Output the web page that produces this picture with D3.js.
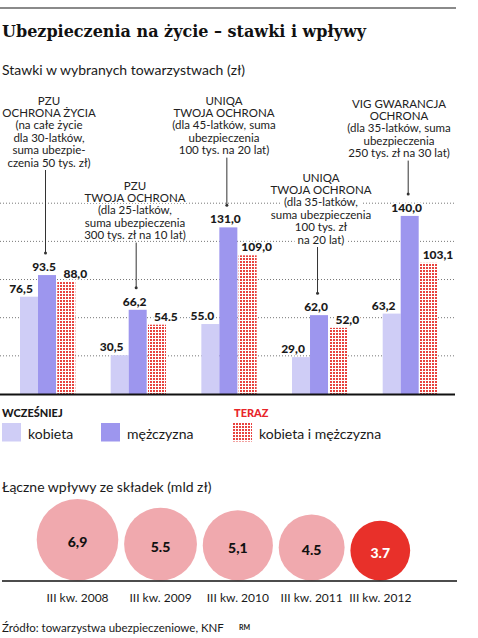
<!DOCTYPE html>
<html>
<head>
<meta charset="utf-8">
<script src="https://cdn.jsdelivr.net/npm/d3@7"></script>
<style>
  body { margin: 0; background: #fff; }
  svg { display: block; }
  text { font-family: Lato, "Open Sans", sans-serif; fill: #1a1a1a; }
</style>
</head>
<body>
<div id="chart"></div>
<script>
// --- data ---
var groups = ["pzu1", "pzu2", "uniqa45", "uniqa35", "vig"];
var kobieta = [76.5, 30.5, 55.0, 29.0, 63.2];
var mezczyzna = [93.5, 66.2, 131.0, 62.0, 140.0];
var teraz = [88.0, 54.5, 109.0, 52.0, 103.1];
var kobietaLbl = ["76,5", "30,5", "55.0", "29,0", "63,2"];
var mezczyznaLbl = ["93.5", "66,2", "131,0", "62,0", "140,0"];
var terazLbl = ["88,0", "54.5", "109,0", "52,0", "103,1"];
var notes = [
  ["PZU", "OCHRONA ŻYCIA", "(na całe życie", "dla 30-latków,", "suma ubezpie-", "czenia 50 tys. zł)"],
  ["PZU", "TWOJA OCHRONA", "(dla 25-latków,", "suma ubezpieczenia", "300 tys. zł na 10 lat)"],
  ["UNIQA", "TWOJA OCHRONA", "(dla 45-latków, suma", "ubezpieczenia", "100 tys. na 20 lat)"],
  ["UNIQA", "TWOJA OCHRONA", "(dla 35-latków,", "suma ubezpieczenia", "100 tys. zł", "na 20 lat)"],
  ["VIG GWARANCJA", "OCHRONA", "(dla 35-latków, suma", "ubezpieczenia", "250 tys. zł na 30 lat)"]
];
var yTicks = [30, 60, 90, 120, 150];

var years = ["III kw. 2008", "III kw. 2009", "III kw. 2010", "III kw. 2011", "III kw. 2012"];
var wplywy = [6.9, 5.5, 5.1, 4.5, 3.7];
var wplywyLbl = ["6,9", "5.5", "5,1", "4.5", "3.7"];

// --- layout ---
var W = 478, H = 638;
var noteLayout = [ // centre x and first line y of each annotation
  { cx: 49, y: 100 }, { cx: 135, y: 185 }, { cx: 224, y: 100 },
  { cx: 321, y: 177 }, { cx: 399, y: 103 }
];
var lineH = 12.4;

var svg = d3.select("#chart").append("svg")
  .attr("width", W).attr("height", H);

var defs = svg.append("defs");
var pat = defs.append("pattern")
  .attr("id", "dots").attr("patternUnits", "userSpaceOnUse")
  .attr("width", 3).attr("height", 3);
pat.append("rect").attr("width", 3).attr("height", 3).attr("fill", "#fff");
pat.append("rect").attr("width", 2).attr("height", 2).attr("fill", "#e8433f");

// header
svg.append("line").attr("x1", 0).attr("x2", 456).attr("y1", 8).attr("y2", 8)
  .attr("stroke", "#8a8a8a").attr("stroke-width", 2);
svg.append("text").attr("x", 2).attr("y", 37)
  .style("font-family", "'DejaVu Serif', serif").style("font-weight", "bold")
  .style("font-size", "16px").style("fill", "#111")
  .text("Ubezpieczenia na życie – stawki i wpływy");
svg.append("text").attr("x", 2).attr("y", 75)
  .style("font-size", "14px").text("Stawki w wybranych towarzystwach (zł)");

// scales
var x = d3.scaleBand().domain(groups).range([20, 438]).paddingInner(0.39).paddingOuter(0);
var keys = ["k", "m", "t"];
var xs = d3.scaleBand().domain(keys).range([0, x.bandwidth() - 1.3]);
var shift = { k: 0, m: 0, t: 1.3 };
var y = d3.scaleLinear().domain([0, 150]).range([394, 203.2]);

// gridlines
svg.append("g").selectAll("line").data(yTicks).join("line")
  .attr("x1", 0).attr("x2", 455)
  .attr("y1", d => y(d)).attr("y2", d => y(d))
  .attr("stroke", "#777").attr("stroke-width", 1)
  .attr("stroke-dasharray", "1,2");

// annotations
var noteG = svg.append("g");
notes.forEach(function (lines, i) {
  var L = noteLayout[i];
  var g = noteG.append("g");
  var bg = g.append("g");
  var txt = g.selectAll("text").data(lines).join("text")
    .attr("x", L.cx).attr("y", (d, j) => L.y + j * lineH)
    .attr("text-anchor", "middle").attr("dominant-baseline", "central")
    .style("font-size", "11.5px").style("fill", "#222")
    .text(d => d);
  txt.each(function () {
    var b = this.getBBox();
    bg.append("rect").attr("x", b.x - 3).attr("y", b.y + 1)
      .attr("width", b.width + 6).attr("height", b.height - 2).attr("fill", "#fff");
  });
  // connector down to the men's bar
  var cxBar = x(groups[i]) + xs("m") + xs.bandwidth() / 2;
  var y1 = L.y + (lines.length - 1) * lineH + 8;
  var y2 = y(mezczyzna[i]) - 22;
  svg.append("line").attr("x1", cxBar - 1.5).attr("x2", cxBar - 1.5)
    .attr("y1", y1).attr("y2", y2)
    .attr("stroke", "#333").attr("stroke-width", 1);
  svg.append("circle").attr("cx", cxBar - 1.5).attr("cy", y2).attr("r", 1.5).attr("fill", "#333");
});

// bars
var rows = [];
groups.forEach(function (g, i) {
  rows.push({ g: g, key: "k", v: kobieta[i], lbl: kobietaLbl[i] });
  rows.push({ g: g, key: "m", v: mezczyzna[i], lbl: mezczyznaLbl[i] });
  rows.push({ g: g, key: "t", v: teraz[i], lbl: terazLbl[i] });
});
var fills = { k: "#cfcdf6", m: "#9d96ee", t: "url(#dots)" };
var labelDx = { k: -8, m: -3, t: 9 };

svg.append("g").selectAll("rect").data(rows).join("rect")
  .attr("x", d => x(d.g) + xs(d.key) + shift[d.key])
  .attr("y", d => y(d.v))
  .attr("width", xs.bandwidth())
  .attr("height", d => y(0) - y(d.v))
  .attr("fill", d => fills[d.key]);

svg.append("g").selectAll("text").data(rows).join("text")
  .attr("x", d => x(d.g) + xs(d.key) + shift[d.key] + xs.bandwidth() / 2 + labelDx[d.key])
  .attr("y", d => y(d.v) - 4)
  .attr("text-anchor", "middle")
  .style("font-size", "12px").style("font-weight", 900)
  .style("stroke", "#fff").style("stroke-width", 3).style("paint-order", "stroke")
  .text(d => d.lbl);

svg.append("line").attr("x1", 0).attr("x2", 455).attr("y1", y(0) + 0.5).attr("y2", y(0) + 0.5)
  .attr("stroke", "#111").attr("stroke-width", 2);

// legend
svg.append("text").attr("x", 2).attr("y", 417)
  .style("font-size", "11px").style("font-weight", 900).text("WCZEŚNIEJ");
svg.append("text").attr("x", 234).attr("y", 417)
  .style("font-size", "11px").style("font-weight", 900).style("fill", "#e8262a").text("TERAZ");
var legend = [
  { key: "k", x: 2, label: "kobieta" },
  { key: "m", x: 101, label: "mężczyzna" },
  { key: "t", x: 233, label: "kobieta i mężczyzna" }
];
var lg = svg.append("g").selectAll("g").data(legend).join("g")
  .attr("transform", d => "translate(" + d.x + ",423)");
lg.append("rect").attr("width", 19).attr("height", 18.5).attr("fill", d => fills[d.key]);
lg.append("text").attr("x", 26).attr("y", 10).attr("dominant-baseline", "central")
  .style("font-size", "14px").text(d => d.label);

// bubbles
svg.append("text").attr("x", 2).attr("y", 492)
  .style("font-size", "14px").text("Łączne wpływy ze składek (mld zł)");

var r = d3.scaleSqrt().domain([0, 6.9]).range([0, 40.8]);
var base = 580.5, gap = 5.8;
var cx = [];
wplywy.forEach(function (v, i) {
  if (i === 0) cx.push(36.7 + r(v));
  else cx.push(cx[i - 1] + r(wplywy[i - 1]) + gap + r(v));
});
var bub = svg.append("g").selectAll("g").data(wplywy).join("g");
bub.append("circle")
  .attr("cx", (d, i) => cx[i]).attr("cy", d => base - r(d)).attr("r", d => r(d))
  .attr("fill", (d, i) => i === wplywy.length - 1 ? "#e8302a" : "#f0a9ae");
bub.append("text")
  .attr("x", (d, i) => cx[i]).attr("y", d => base - r(d) + 2)
  .attr("text-anchor", "middle").attr("dominant-baseline", "central")
  .style("font-size", "14px").style("font-weight", 900)
  .style("fill", (d, i) => i === wplywy.length - 1 ? "#fff" : "#111")
  .text((d, i) => wplywyLbl[i]);
bub.append("text")
  .attr("x", (d, i) => cx[i]).attr("y", 597.5)
  .attr("text-anchor", "middle").attr("dominant-baseline", "central")
  .style("font-size", "12px").text((d, i) => years[i]);

svg.append("line").attr("x1", 2).attr("x2", 457).attr("y1", base + 0.5).attr("y2", base + 0.5)
  .attr("stroke", "#111").attr("stroke-width", 1.5);

// source
svg.append("text").attr("x", 2).attr("y", 627).attr("dominant-baseline", "central")
  .style("font-size", "11.5px").text("Źródło: towarzystwa ubezpieczeniowe, KNF");
svg.append("text").attr("x", 239).attr("y", 627).attr("dominant-baseline", "central")
  .style("font-size", "7px").style("font-weight", "bold").text("RM");
</script>
</body>
</html>
